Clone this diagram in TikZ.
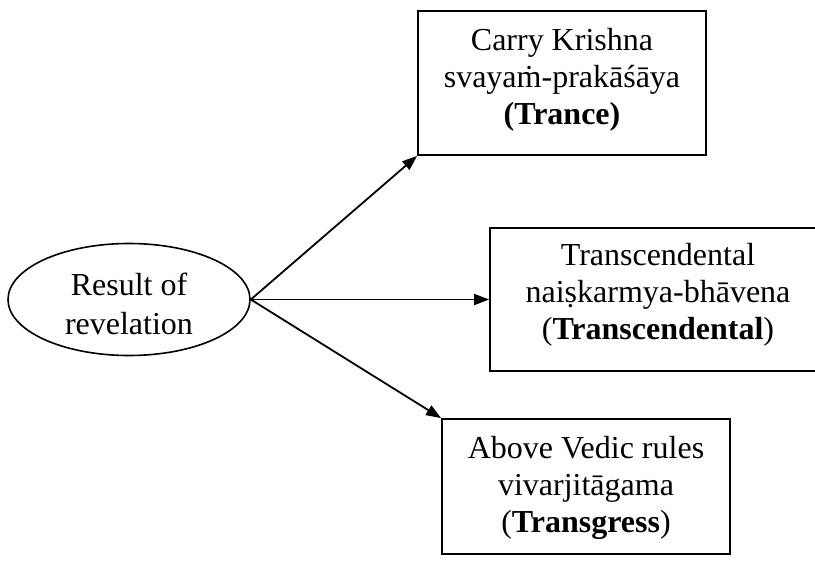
\documentclass[tikz,border=0pt]{standalone}
\usepackage{fontspec}
\setmainfont{Liberation Serif}
\usetikzlibrary{arrows.meta,shapes.geometric}
\begin{document}
\begin{tikzpicture}[x=1pt,y=-1pt,
  lbl/.style={align=center,inner sep=0pt,font=\fontsize{32}{37}\selectfont},
  boxframe/.style={draw,line width=1.8pt,inner sep=0pt},
  link/.style={line width=1.8pt,-{Triangle[length=15pt,width=11pt]}}]
\useasboundingbox (0,0) rectangle (815,563);
\clip (0,0) rectangle (815,563);
% source ellipse
\node[ellipse,draw,line width=1.6pt,minimum width=242pt,minimum height=112pt,inner sep=0pt]
  (src) at (129,299.5) {};
\node[lbl,font=\fontsize{32}{39}\selectfont] (srct) at (129,304) {Result of\\revelation};
% target boxes
\node[boxframe,minimum width=288pt,minimum height=144pt] (b1) at (562,83) {};
\node[lbl] (b1t) at (562,80) {Carry Krishna\\svayaṁ-prakāśāya\\\textbf{(Trance)}};
\node[boxframe,minimum width=336pt,minimum height=143pt] (b2) at (658,299.5) {};
\node[lbl] (b2t) at (658,295) {Transcendental\\naiṣkarmya-bhāvena\\(\textbf{Transcendental})};
\node[boxframe,minimum width=288pt,minimum height=135pt] (b3) at (586,486.5) {};
\node[lbl] (b3t) at (586,488) {Above Vedic rules\\vivarjitāgama\\(\textbf{Transgress})};
% connectors
\draw[link] (src.east) -- (b1.south west);
\draw[link] (src.east) -- (b2.west);
\draw[link] (src.east) -- (b3.north west);
\end{tikzpicture}
\end{document}
